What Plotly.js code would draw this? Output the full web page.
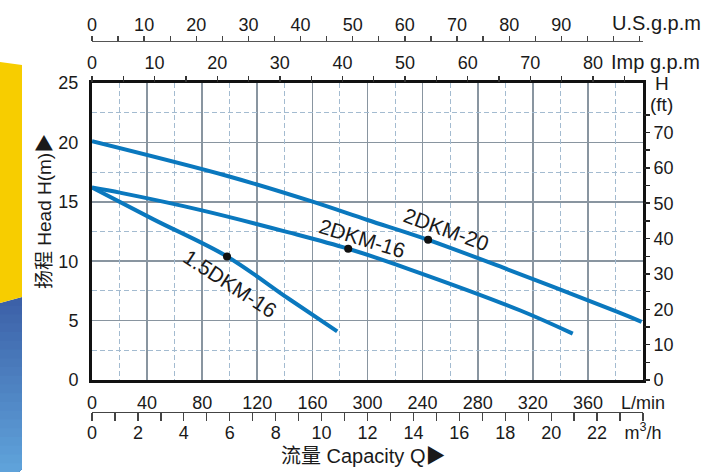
<!DOCTYPE html>
<html><head><meta charset="utf-8">
<script src="https://cdn.plot.ly/plotly-3.0.1.min.js"></script>
<style>html,body{margin:0;padding:0;background:#fff}#chart{width:707px;height:472px}</style>
</head><body><div id="chart"></div><script>
// ---- data (flow in L/min, head in m) ----
const pump20_q = [0, 99, 159, 200, 244, 302, 381, 399];
const pump20_h = [20.1, 17.15, 15.05, 13.47, 11.8, 9.3, 5.75, 4.9];
const pump16_q = [0, 21, 79, 142, 186, 231, 311, 349];
const pump16_h = [16.2, 15.75, 14.3, 12.45, 11.05, 9.3, 5.85, 3.9];
const pump15_q = [0, 45, 98, 142, 178];
const pump15_h = [16.2, 13.5, 10.4, 6.9, 4.1];
const duty_q = [244, 186, 98];
const duty_h = [11.8, 11.05, 10.4];
const curve_names = ['2DKM-20', '2DKM-16', '1.5DKM-16'];

const lpm_vals = [0,40,80,120,160,200,240,280,320,360,400];
const lpm_text = ['0','40','80','120','160','300','240','280','320','360','L/min'];
const lpm_half = [20,60,100,140,180,220,260,300,340,380];
const m3h_vals = [0,1,2,3,4,5,6,7,8,9,10,11,12,13,14,15,16,17,18,19,20,21,22,23,24];
const m3h_text = ['0','','2','','4','','6','','8','','10','','12','','14','','16','','18','','20','','22','','m<sup>3</sup>/h'];
const usg_vals = [0,5,10,15,20,25,30,35,40,45,50,55,60,65,70,75,80,85,90,95,100,105];
const usg_text = ['0','','10','','20','','30','','40','','50','','60','','70','','80','','90','','',''];
const imp_vals = [0,5,10,15,20,25,30,35,40,45,50,55,60,65,70,75,80,85];
const imp_text = ['0','','10','','20','','30','','40','','50','','60','','70','','80',''];
const ft_vals = [0,5,10,15,20,25,30,35,40,45,50,55,60,65,70,75];
const ft_text = ['0','','10','','20','','30','','40','','50','','60','','70',''];
const head_vals = [0,5,10,15,20,25];
const head_half = [2.5,7.5,12.5,17.5,22.5];

// ---- layout helpers (pixel -> paper) ----
const L = 92, R = 643, H = 472;
const px = x => (x - L) / (R - L);
const py = y => (H - y) / H;
const FONT = 'Liberation Sans, Arial, Noto Sans CJK SC, sans-serif';
const BLUE = '#0a78be';
const QMAX = 400;

const traces = [
  {x: pump20_q, y: pump20_h, name: curve_names[0]},
  {x: pump16_q, y: pump16_h, name: curve_names[1]},
  {x: pump15_q, y: pump15_h, name: curve_names[2]}
].map(t => Object.assign(t, {type:'scatter', mode:'lines', line:{color:BLUE, width:4, shape:'spline', smoothing:1}, hoverinfo:'skip'}));
traces.push({type:'scatter', mode:'markers', x: duty_q, y: duty_h, marker:{color:'#111', size:8}, hoverinfo:'skip'});
// invisible traces that activate the extra axes
const ghost = (xa, ya) => ({type:'scatter', x:[0], y:[0], xaxis:xa, yaxis:ya, mode:'markers', marker:{opacity:0}, hoverinfo:'skip'});
traces.unshift(ghost('x5','y3'));
traces.push(ghost('x2','y'), ghost('x3','y'), ghost('x4','y'), ghost('x','y2'));

const tickFont = {family: FONT, size: 18, color: '#1a1a1a'};
const gridMain = '#8995a0', gridMinor = '#a3bbd0';
const DASH = '5px,3px';

const layout = {
  width: 707, height: 472,
  margin: {l: L, r: 707 - R, t: 0, b: 0, pad: 0},
  paper_bgcolor: '#fff', plot_bgcolor: '#fff',
  showlegend: false,
  font: {family: FONT, size: 18, color: '#1a1a1a'},
  xaxis: {
    range: [0, QMAX], tickmode: 'array', tickvals: lpm_vals, ticktext: lpm_text,
    ticks: 'outside', ticklen: 4, tickcolor: 'rgba(0,0,0,0)', tickfont: tickFont,
    showline: true, mirror: true, linecolor: '#111', linewidth: 3,
    showgrid: true, gridcolor: gridMain, gridwidth: 1.6,
    zeroline: false, anchor: 'y', fixedrange: true, layer: 'above traces'
  },
  xaxis5: {
    range: [0, QMAX], overlaying: 'x', anchor: 'y', tickmode: 'array', tickvals: lpm_half,
    showticklabels: false, ticks: '', showline: false, zeroline: false,
    showgrid: true, gridcolor: gridMinor, gridwidth: 1, griddash: DASH
  },
  xaxis2: {
    range: [0, 24], overlaying: 'x', anchor: 'free', position: py(412), side: 'bottom',
    tickmode: 'array', tickvals: m3h_vals, ticktext: m3h_text,
    ticks: 'outside', ticklen: 8, tickcolor: '#444', tickwidth: 1.3, tickfont: tickFont, ticklabelstandoff: -4,
    showline: true, linecolor: '#444', linewidth: 1.3, showgrid: false, zeroline: false
  },
  xaxis3: {
    range: [0, QMAX / 4.54609], overlaying: 'x', anchor: 'y', side: 'top',
    tickmode: 'array', tickvals: imp_vals, ticktext: imp_text,
    ticks: 'outside', ticklen: 6, tickcolor: '#333', tickwidth: 1.3, tickfont: tickFont,
    showline: false, showgrid: false, zeroline: false
  },
  xaxis4: {
    range: [0, QMAX / 3.78541], overlaying: 'x', anchor: 'free', position: py(41), side: 'top',
    tickmode: 'array', tickvals: usg_vals, ticktext: usg_text,
    ticks: 'outside', ticklen: 5, tickcolor: '#444', tickwidth: 1.3, tickfont: tickFont, ticklabelstandoff: -2,
    showline: true, linecolor: '#555', linewidth: 1.3, showgrid: false, zeroline: false
  },
  yaxis: {
    domain: [py(380), py(83)], range: [0, 25], tickmode: 'array', tickvals: head_vals,
    ticks: 'outside', ticklen: 7, tickcolor: 'rgba(0,0,0,0)', tickfont: tickFont,
    showline: true, mirror: true, linecolor: '#111', linewidth: 3,
    showgrid: true, gridcolor: gridMain, gridwidth: 1.6,
    zeroline: false, fixedrange: true
  },
  yaxis3: {
    overlaying: 'y', anchor: 'x', range: [0, 25], tickmode: 'array', tickvals: head_half,
    showticklabels: false, ticks: '', showline: false, zeroline: false,
    showgrid: true, gridcolor: gridMinor, gridwidth: 1, griddash: DASH
  },
  yaxis2: {
    overlaying: 'y', side: 'right', anchor: 'x', range: [0, 84],
    tickmode: 'array', tickvals: ft_vals, ticktext: ft_text,
    ticks: 'outside', ticklen: 6, tickcolor: '#222', tickwidth: 1.5, tickfont: tickFont,
    showline: false, showgrid: false, zeroline: false
  },
  annotations: [
    {xref:'paper', yref:'paper', x: px(610), y: py(23), xanchor:'left', yanchor:'middle', text:'U.S.g.p.m', showarrow:false, font:{family:FONT, size:20, color:'#1a1a1a'}},
    {xref:'paper', yref:'paper', x: px(609), y: py(62), xanchor:'left', yanchor:'middle', text:'Imp g.p.m', showarrow:false, font:{family:FONT, size:20, color:'#1a1a1a'}},
    {xref:'paper', yref:'paper', x: px(662), y: py(84), xanchor:'center', yanchor:'middle', text:'H', showarrow:false, font:{family:FONT, size:19, color:'#1a1a1a'}},
    {xref:'paper', yref:'paper', x: px(661), y: py(105), xanchor:'center', yanchor:'middle', text:'(ft)', showarrow:false, font:{family:FONT, size:19, color:'#1a1a1a'}},
    {xref:'paper', yref:'paper', x: px(44), y: py(212), xanchor:'center', yanchor:'middle', textangle:-90, text:'扬程 Head H(m)▶', showarrow:false, font:{family:FONT, size:19, color:'#1a1a1a'}},
    {xref:'paper', yref:'paper', x: px(363), y: py(456), xanchor:'center', yanchor:'middle', text:'流量 Capacity Q▶', showarrow:false, font:{family:FONT, size:20, color:'#1a1a1a'}},
    {xref:'x', yref:'y', x: 257.5, y: 12.67, text: curve_names[0], textangle: 20, showarrow:false, font:{family:FONT, size:21, color:'#1a1a1a'}},
    {xref:'x', yref:'y', x: 196.7, y: 11.95, text: curve_names[1], textangle: 17, showarrow:false, font:{family:FONT, size:21, color:'#1a1a1a'}},
    {xref:'x', yref:'y', x: 100.2, y: 8.12, text: curve_names[2], textangle: 33, showarrow:false, font:{family:FONT, size:21, color:'#1a1a1a'}}
  ],
  shapes: []
};

// left decorative brochure band: yellow, then a vertical blue gradient
const xa = px(0), xb = px(22);
const hex = (a, b, t) => {
  const c = i => Math.round(parseInt(a.substr(i,2),16)*(1-t) + parseInt(b.substr(i,2),16)*t).toString(16).padStart(2,'0');
  return '#' + c(1) + c(3) + c(5);
};
const N = 20, yTopL = 303, yTopR = 297, yBot = 472;
for (let i = 0; i < N; i++) {
  const t = i / (N - 1);
  const col = hex('#3c61a8', '#5fa2da', t);
  const yt = yTopR + (yBot - yTopR) * i / N;
  const topPath = i === 0 ? `M ${xa} ${py(yTopL)} L ${xb} ${py(yTopR)}` : `M ${xa} ${py(yt)} L ${xb} ${py(yt)}`;
  layout.shapes.push({type:'path', xref:'paper', yref:'paper', layer:'below', line:{width:0}, fillcolor: col,
    path:`${topPath} L ${xb} ${py(466)} Q ${xb} ${py(472)} ${px(16)} ${py(472)} L ${xa} ${py(472)} Z`});
}
layout.shapes.push({type:'path', xref:'paper', yref:'paper', layer:'below', line:{width:0}, fillcolor:'#f7cd00',
  path:`M ${xa} ${py(62)} L ${xb} ${py(65)} L ${xb} ${py(297)} L ${xa} ${py(303)} Z`});

Plotly.newPlot('chart', traces, layout, {displayModeBar: false, staticPlot: true});
</script></body></html>
